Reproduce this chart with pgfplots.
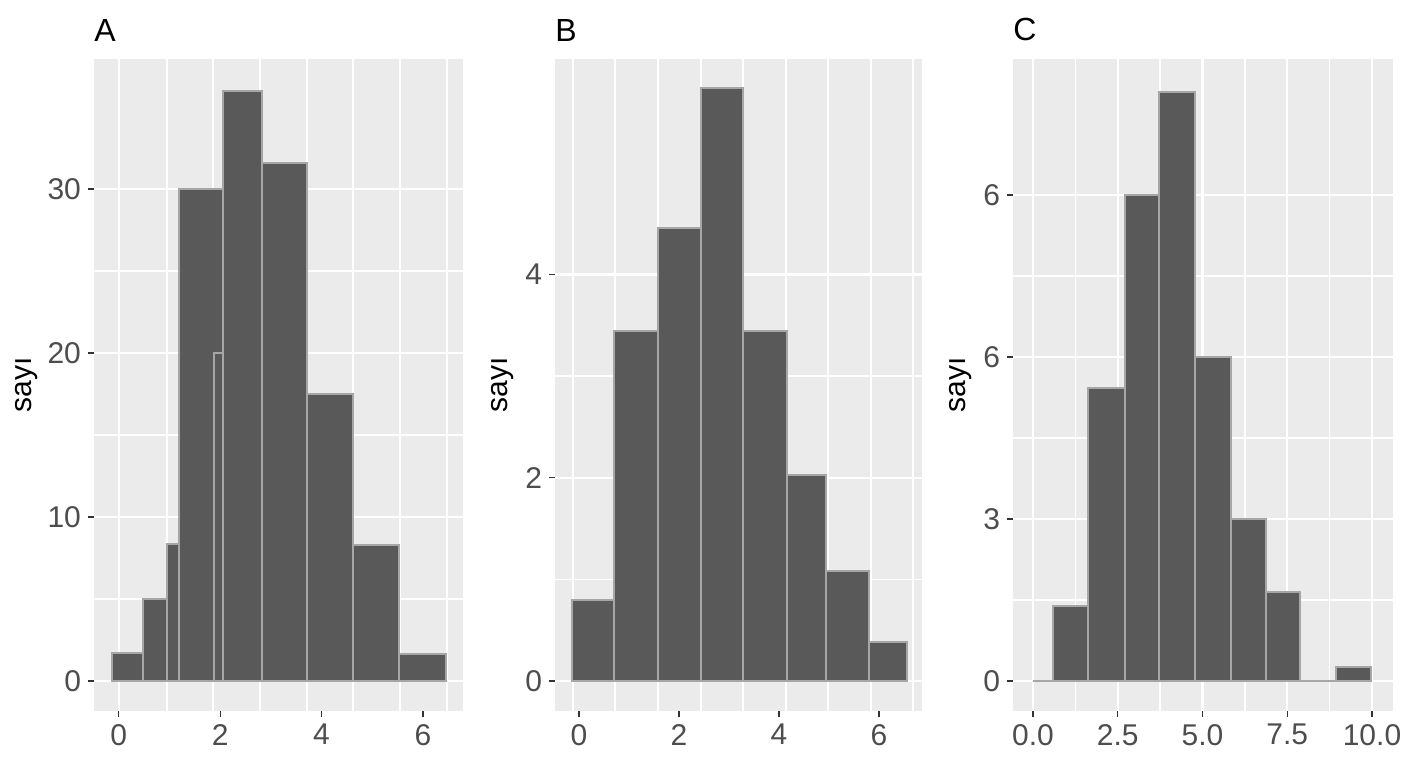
\documentclass[border=0pt]{standalone}
\usepackage{fontspec}
\setmainfont{Liberation Sans}
\usepackage{pgfplots}
\pgfplotsset{compat=1.18}
\definecolor{panelbg}{HTML}{EBEBEB}
\definecolor{barfill}{HTML}{595959}
\definecolor{barline}{HTML}{A6A6A6}
\definecolor{ticklab}{HTML}{4D4D4D}
\definecolor{tickcol}{HTML}{333333}

\pgfplotsset{ggstyle/.style={
  scale only axis,
  anchor=south west,
  axis background/.style={fill=panelbg},
  axis line style={draw=none},
  tick align=outside,
  tick pos=left,
  major tick length=3pt,
  minor tick length=0pt,
  every tick/.style={tickcol, line width=0.6pt},
  ymajorgrids, yminorgrids,
  minor y tick num=1,
  major grid style={white, line width=1.1pt},
  minor grid style={white, line width=0.8pt},
  tick label style={font=\fontsize{15}{17}\selectfont, text=ticklab},
  every axis y label/.style={rotate=90, anchor=center, font=\fontsize{15}{17}\selectfont},
  every axis title/.style={at={(axis description cs:0,1)}, anchor=base west, yshift=9pt, inner sep=0pt, font=\fontsize{16}{18}\selectfont},
  clip=false,
}}
\pgfplotsset{barst/.style={ybar interval, fill=barfill, draw=barline, line width=1pt}}

\begin{document}
\begin{tikzpicture}
\path[use as bounding box] (0,0) rectangle (704pt,384pt);

% Panel A
\begin{axis}[ggstyle,
  at={(47pt,28.5pt)}, width=184.5pt, height=326pt,
  xmin=-0.49, xmax=6.79, ymin=-1.83, ymax=37.93,
  xtick={0,2,4,6}, xticklabels={0,2,4,6},
  ytick={0,10,20,30}, yticklabels={0,10,20,30},
  extra x ticks={0,0.95,1.86,2.78,3.71,4.62,5.55,6.47},
  extra x tick labels={},
  extra x tick style={grid=major, major tick length=0pt},
  ylabel={sayı},
  every axis y label/.append style={at={(axis description cs:-0.184,0.5)}},
  title={A}]
\addplot[barst] coordinates {(-0.14,1.7) (0.47,5.0) (0.95,8.35) (1.18,30) (2.05,36) (2.82,31.6) (3.71,17.5) (4.62,8.3) (5.53,1.65) (6.45,1.65)};
\addplot[barst] coordinates {(1.87,20) (2.05,20)};
\end{axis}

% Panel B
\begin{axis}[ggstyle,
  at={(277.5pt,28.5pt)}, width=183.5pt, height=326pt,
  xmin=-0.48, xmax=6.86, ymin=-0.295, ymax=6.12,
  xtick={0,2,4,6}, xticklabels={0,2,4,6},
  ytick={0,2,4}, yticklabels={0,2,4},
  extra x ticks={-0.12,0.72,1.58,2.44,3.28,4.14,4.98,5.84,6.68},
  extra x tick labels={},
  extra x tick style={grid=major, major tick length=0pt},
  ylabel={sayı},
  every axis y label/.append style={at={(axis description cs:-0.144,0.5)}},
  title={B}]
\addplot[barst] coordinates {(-0.14,0.80) (0.70,3.44) (1.58,4.46) (2.44,5.83) (3.28,3.44) (4.16,2.03) (4.94,1.08) (5.80,0.38) (6.56,0.38)};
\end{axis}

% Panel C
\begin{axis}[ggstyle,
  at={(506.5pt,28.5pt)}, width=190pt, height=326pt,
  xmin=-0.59, xmax=10.62, ymin=-0.556, ymax=11.52,
  xtick={0,2.5,5,7.5,10}, xticklabels={0.0,2.5,5.0,7.5,10.0},
  xmajorgrids, xminorgrids, minor x tick num=1,
  ytick={0,3,6,9}, yticklabels={0,3,6,6},
  ylabel={sayı},
  every axis y label/.append style={at={(axis description cs:-0.137,0.5)}},
  title={C}]
\addplot[barst] coordinates {(0,0) (0.59,1.38) (1.62,5.42) (2.71,9.0) (3.72,10.9) (4.78,6.0) (5.84,3.0) (6.87,1.65) (7.88,0) (8.94,0.25) (9.97,0.25)};
\end{axis}
\end{tikzpicture}
\end{document}
